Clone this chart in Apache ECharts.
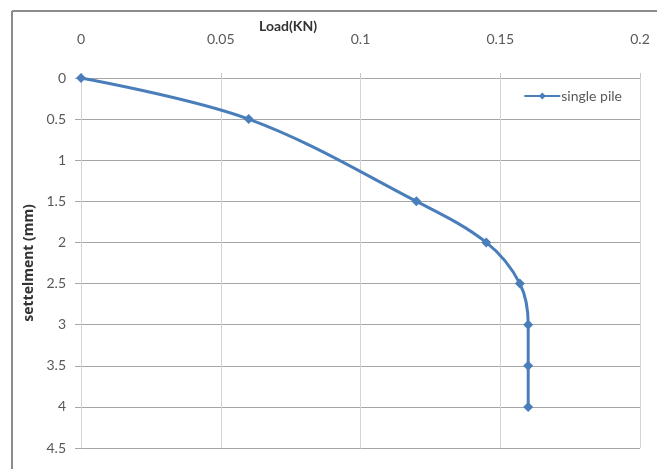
<!DOCTYPE html>
<html><head><meta charset="utf-8">
<script src="https://cdn.jsdelivr.net/npm/echarts@6/dist/echarts.min.js"></script>
<style>html,body{margin:0;padding:0;background:#fff}#c{width:657px;height:469px}</style>
</head><body><div id="c"></div>
<script>
const loadKN = [0, 0.06, 0.12, 0.145, 0.157, 0.16, 0.16, 0.16];
const settlement = [0, 0.5, 1.5, 2, 2.5, 3, 3.5, 4];
const seriesName = 'single pile';
const xTitle = 'Load(KN)';
const yTitle = 'settelment (mm)';

const chart = echarts.init(document.getElementById('c'));
const font = 'Lato, "Noto Sans", sans-serif';
chart.setOption({
  animation: false,
  grid: {left: 81, right: 17, top: 78, bottom: 21},
  legend: {
    data: [seriesName],
    right: 30, top: 84, itemWidth: 36, itemHeight: 9, itemGap: 2,
    textStyle: {fontFamily: font, fontSize: 14, color: '#595959', padding: [0, 0, 0, -4]}
  },
  graphic: [
    {type: 'text', left: 259, top: 19, style: {text: xTitle, font: 'bold 14px ' + font, fill: '#333'}},
    {type: 'line', shape: {x1: 12, y1: 11, x2: 657, y2: 11}, style: {stroke: '#8c8c8c', lineWidth: 2}},
    {type: 'line', shape: {x1: 12, y1: 11, x2: 12, y2: 469}, style: {stroke: '#8c8c8c', lineWidth: 2}}
  ],
  xAxis: {
    type: 'value', position: 'top', min: 0, max: 0.2, interval: 0.05,
    axisLine: {show: false},
    axisTick: {show: true, length: 5, lineStyle: {color: '#c8c8c8'}},
    axisLabel: {margin: 32, fontFamily: font, fontSize: 14, color: '#595959'},
    splitLine: {show: true, lineStyle: {color: '#d4d4d4', width: 1}}
  },
  yAxis: {
    type: 'value', inverse: true, min: 0, max: 4.5, interval: 0.5,
    name: yTitle, nameLocation: 'middle', nameGap: 45, nameRotate: 90,
    nameTextStyle: {fontFamily: '"Noto Sans", sans-serif', fontSize: 14, fontWeight: 'bold', color: '#333'},
    axisLine: {show: true, lineStyle: {color: '#d4d4d4'}},
    axisTick: {show: true, length: 6, lineStyle: {color: '#a6a6a6'}},
    axisLabel: {margin: 15, fontFamily: font, fontSize: 14, color: '#595959'},
    splitLine: {show: true, lineStyle: {color: '#a6a6a6', width: 1}}
  },
  series: [{
    name: seriesName, type: 'line', smooth: 0.35,
    data: loadKN.map((v, i) => [v, settlement[i]]),
    symbol: 'diamond', symbolSize: 10,
    lineStyle: {color: '#4a7ebb', width: 3},
    itemStyle: {color: '#4a7ebb'}
  }]
});
</script></body></html>
